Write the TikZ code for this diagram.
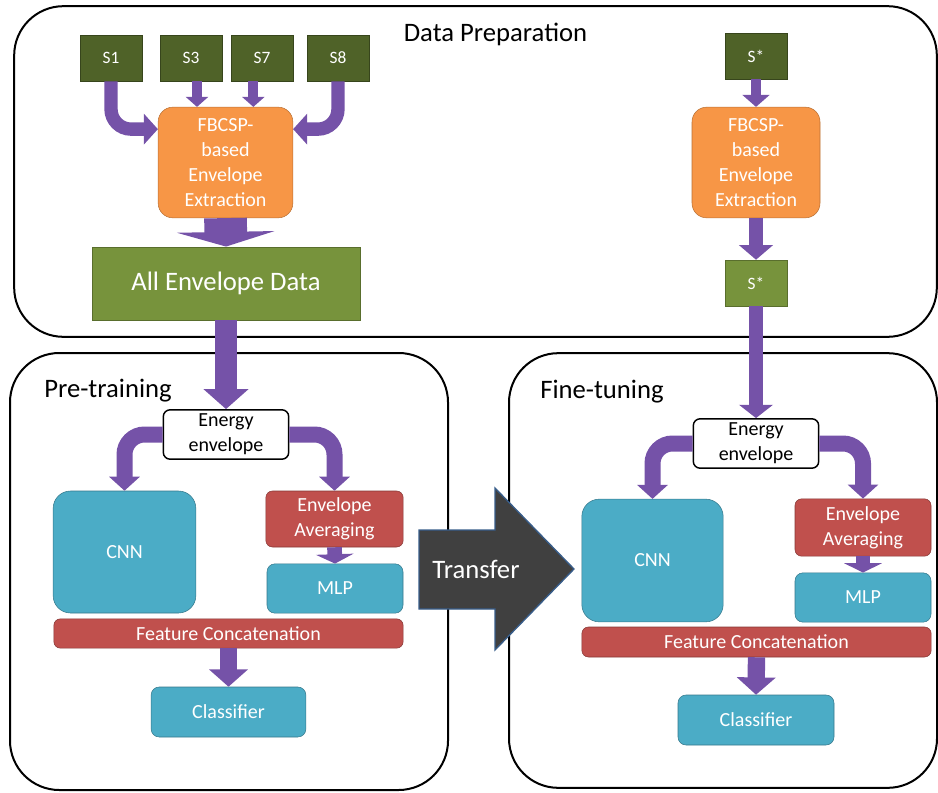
\documentclass[tikz,border=0pt]{standalone}
\usepackage{fontspec}
\setmainfont{Carlito}
\usepackage{xcolor}
\usepackage{tikz}
\usetikzlibrary{arrows.meta,calc}

\definecolor{flowpurple}{RGB}{117,82,168}
\definecolor{sgreen}{RGB}{79,98,40}
\definecolor{datagreen}{RGB}{119,147,60}
\definecolor{fbcsporange}{RGB}{247,150,70}
\definecolor{netteal}{RGB}{75,172,198}
\definecolor{opred}{RGB}{192,80,77}
\definecolor{transfergrey}{RGB}{64,64,64}
\definecolor{transferblue}{RGB}{56,93,138}

\begin{document}
\begin{tikzpicture}[
  x=0.75pt, y=-0.75pt,
  every node/.style={align=center, inner sep=0pt},
  panel/.style={draw=black, line width=1.5pt, rounded corners=37pt},
  paneltitle/.style={font=\fontsize{20}{24}\selectfont},
  sbox/.style={draw=sgreen!70!black, fill=sgreen, text=white, font=\fontsize{13}{15}\selectfont,
    minimum width=46.5pt, minimum height=34.5pt},
  databox/.style={draw=datagreen!75!black, fill=datagreen, text=white},
  fbcsp/.style={draw=fbcsporange!75!black, fill=fbcsporange, text=white, rounded corners=11pt,
    font=\fontsize{15}{18.75}\selectfont, minimum height=83pt},
  netbox/.style={draw=netteal!70!black, fill=netteal, text=white, rounded corners=6pt,
    font=\fontsize{15}{18}\selectfont},
  opbox/.style={draw=opred!70!black, fill=opred, text=white, rounded corners=5pt,
    font=\fontsize{15}{18.75}\selectfont},
  energy/.style={draw=black, line width=1.1pt, fill=white, rounded corners=5pt,
    font=\fontsize{15}{18.75}\selectfont, minimum width=94pt, minimum height=37pt},
  flow/.style n args={3}{draw=flowpurple, line width=#1, -{Triangle[width=#2,length=#3]},
    rounded corners=15pt}]
  \useasboundingbox (0,0) rectangle (938,792);

  \node[panel, minimum width=692pt, minimum height=248pt] (prep) at (475.5,171.5) {};
  \node[panel, minimum width=328.5pt, minimum height=327.75pt] (pretrain) at (229,571.5) {};
  \node[panel, minimum width=321pt, minimum height=326pt] (finetune) at (723,570.5) {};

  \node[paneltitle, anchor=base] (preptitle) at (495.5,42) {Data Preparation};
  \node[paneltitle, anchor=base west] (pretitle) at (44,397) {Pre-training};
  \node[paneltitle, anchor=base west] (finetitle) at (540,398) {Fine-tuning};

  \node[sbox] (s1) at (111,58) {S1};
  \node[sbox] (s3) at (191,58) {S3};
  \node[sbox] (s7) at (262,58) {S7};
  \node[sbox] (s8) at (338,58) {S8};
  \node[fbcsp, minimum width=101pt] (extract) at (225.5,162.5) {FBCSP-\\based\\Envelope\\Extraction};
  \node[databox, minimum width=201pt, minimum height=55pt, font=\fontsize{20}{24}\selectfont]
    (alldata) at (226,283.5) {All Envelope Data};

  \node[sbox] (snew) at (756,56) {S*};
  \node[fbcsp, minimum width=96pt] (extractnew) at (756,162.5) {FBCSP-\\based\\Envelope\\Extraction};
  \node[databox, minimum width=46.5pt, minimum height=34.5pt, font=\fontsize{13}{15}\selectfont]
    (snewdata) at (756,283) {S*};

  \node[energy] (energypre) at (226,434.5) {Energy\\envelope};
  \node[netbox, minimum width=107pt, minimum height=91.5pt, rounded corners=13pt] (cnnpre) at (124.5,552) {CNN};
  \node[opbox, minimum width=103pt, minimum height=42pt] (avgpre) at (334.5,519) {Envelope\\Averaging};
  \node[netbox, minimum width=102pt, minimum height=37pt] (mlppre) at (335,588.5) {MLP};
  \node[opbox, minimum width=262pt, minimum height=22pt] (catpre) at (228.5,633.5) {Feature Concatenation};
  \node[netbox, minimum width=116pt, minimum height=37.5pt] (clspre) at (228.5,712) {Classifier};

  \node[energy] (energyfine) at (756,443.5) {Energy\\envelope};
  \node[netbox, minimum width=106pt, minimum height=92pt, rounded corners=13pt] (cnnfine) at (652.5,560.5) {CNN};
  \node[opbox, minimum width=102pt, minimum height=43pt] (avgfine) at (863,527.5) {Envelope\\Averaging};
  \node[netbox, minimum width=102pt, minimum height=37pt] (mlpfine) at (863,597.5) {MLP};
  \node[opbox, minimum width=262pt, minimum height=22.5pt] (catfine) at (756.5,642) {Feature Concatenation};
  \node[netbox, minimum width=117pt, minimum height=37.5pt] (clsfine) at (756,720) {Classifier};

  \draw[draw=transferblue, fill=transfergrey, line width=1pt]
    (419,530) -- (495,530) -- (495,488) -- (574,569) -- (495,650) -- (495,609) -- (419,609) -- cycle;
  \node[font=\fontsize{20}{24}\selectfont, text=white, anchor=base] (transfer) at (476,578) {Transfer};

  \draw[flow={10pt}{22.5pt}{10.5pt}] (s1.south) |- ($(extract.north west)!0.2!(extract.south west)$);
  \draw[flow={10pt}{22.5pt}{10.5pt}] (s8.south) |- ($(extract.north east)!0.2!(extract.south east)$);
  \draw[flow={7.5pt}{16.5pt}{7.5pt}] ([xshift=4.5pt]s3.south) -- ([xshift=4.5pt]s3.south |- extract.north);
  \draw[flow={7.5pt}{16.5pt}{7.5pt}] ([xshift=-6.5pt]s7.south) -- ([xshift=-6.5pt]s7.south |- extract.north);
  \draw[flow={32pt}{73pt}{11pt}] (extract.south) -- (alldata.north);
  \draw[flow={16.5pt}{33pt}{15pt}] (alldata.south) -- (energypre.north);

  \draw[flow={8pt}{20pt}{9pt}] (snew.south) -- (extractnew.north);
  \draw[flow={10pt}{25pt}{11pt}] (extractnew.south) -- (snewdata.north);
  \draw[flow={10pt}{25pt}{10pt}] (snewdata.south) -- (energyfine.north);

  \draw[flow={12pt}{22.5pt}{10.5pt}] (energypre.west) -| (cnnpre.north);
  \draw[flow={12pt}{22.5pt}{10.5pt}] (energypre.east) -| (avgpre.north);
  \draw[flow={11pt}{28pt}{7pt}] (avgpre.south) -- (mlppre.north);
  \draw[flow={13pt}{28.5pt}{13pt}] (catpre.south) -- (clspre.north);

  \draw[flow={12pt}{22.5pt}{10.5pt}] (energyfine.west) -| (cnnfine.north);
  \draw[flow={12pt}{22.5pt}{10.5pt}] (energyfine.east) -| (avgfine.north);
  \draw[flow={11pt}{28pt}{7pt}] (avgfine.south) -- (mlpfine.north);
  \draw[flow={13pt}{28.5pt}{13pt}] (catfine.south) -- (clsfine.north);
\end{tikzpicture}
\end{document}
